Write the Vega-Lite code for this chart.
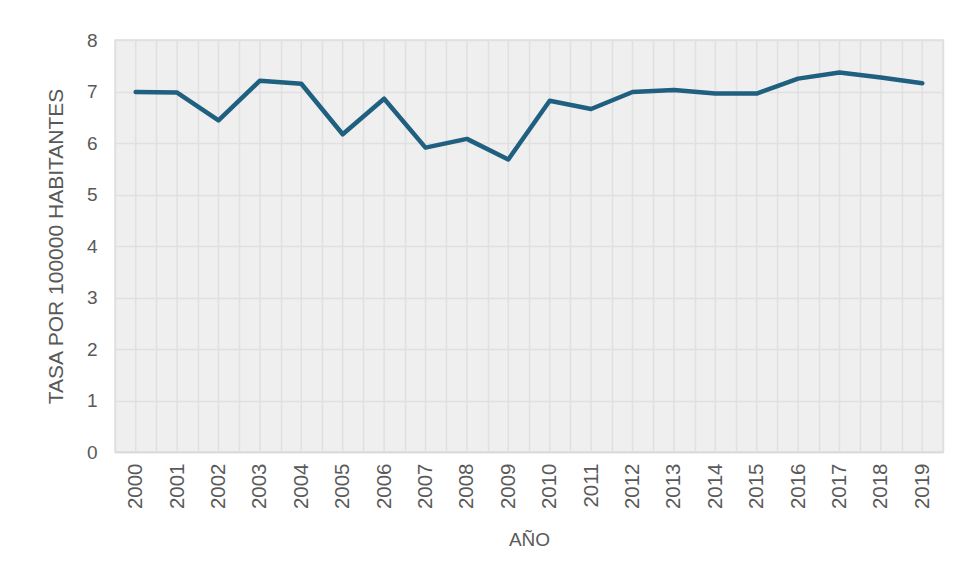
{
  "$schema": "https://vega.github.io/schema/vega-lite/v6.json",
  "autosize": "none",
  "width": 828,
  "height": 412,
  "padding": {"left": 115, "top": 40, "right": 13, "bottom": 127},
  "background": "white",
  "config": {
    "font": "Liberation Sans",
    "view": {"fill": "#efefef", "stroke": "#dedede", "strokeWidth": 1.5},
    "axis": {
      "labelColor": "#595959",
      "titleColor": "#595959",
      "titleFontWeight": "normal",
      "gridColor": "#e0e0e0",
      "gridWidth": 1.5,
      "domainColor": "#d9d9d9",
      "ticks": false,
      "labelOverlap": false
    }
  },
  "data": {
    "values": [
      {"year": "2000", "rate": 6.99},
      {"year": "2001", "rate": 6.98},
      {"year": "2002", "rate": 6.44},
      {"year": "2003", "rate": 7.21},
      {"year": "2004", "rate": 7.15},
      {"year": "2005", "rate": 6.17},
      {"year": "2006", "rate": 6.86},
      {"year": "2007", "rate": 5.91},
      {"year": "2008", "rate": 6.08},
      {"year": "2009", "rate": 5.68},
      {"year": "2010", "rate": 6.82},
      {"year": "2011", "rate": 6.66},
      {"year": "2012", "rate": 6.99},
      {"year": "2013", "rate": 7.03},
      {"year": "2014", "rate": 6.96},
      {"year": "2015", "rate": 6.96},
      {"year": "2016", "rate": 7.25},
      {"year": "2017", "rate": 7.37},
      {"year": "2018", "rate": 7.27},
      {"year": "2019", "rate": 7.16}
    ]
  },
  "layer": [
    {
      "mark": {"type": "rule", "color": "#e0e0e0", "strokeWidth": 1.5},
      "encoding": {
        "x": {"field": "year", "type": "ordinal", "scale": {"type": "band", "paddingInner": 0, "paddingOuter": 0}}
      }
    },
    {
      "mark": {"type": "line", "color": "#1f5f7f", "strokeWidth": 4.5, "strokeCap": "round", "strokeJoin": "round"},
      "encoding": {
        "x": {
          "field": "year",
          "type": "ordinal",
          "scale": {"type": "band", "paddingInner": 0, "paddingOuter": 0},
          "axis": {
            "title": "AÑO",
            "titleFontSize": 19,
            "titlePadding": 22,
            "labelAngle": -90,
            "labelAlign": "right",
            "labelBaseline": "middle",
            "labelFontSize": 20.5,
            "labelPadding": 11,
            "grid": true,
            "tickBand": "extent",
            "domain": true,
            "domainWidth": 1.5
          }
        },
        "y": {
          "field": "rate",
          "type": "quantitative",
          "scale": {"domain": [0, 8], "nice": false},
          "axis": {
            "title": "TASA POR 100000 HABITANTES",
            "titleFontSize": 21,
            "titlePadding": 20,
            "labelFontSize": 19,
            "labelPadding": 18,
            "values": [0, 1, 2, 3, 4, 5, 6, 7, 8],
            "domain": false,
            "grid": true
          }
        }
      }
    }
  ]
}
